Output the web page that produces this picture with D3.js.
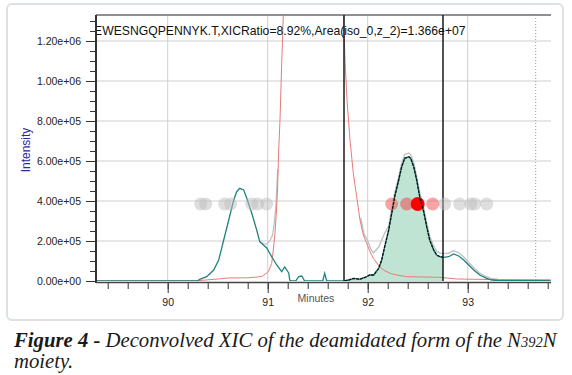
<!DOCTYPE html>
<html>
<head>
<meta charset="utf-8">
<script src="https://cdn.jsdelivr.net/npm/d3@7"></script>
<style>
  body { margin: 0; background: #fff; }
  svg { display: block; }
  .tick text { font-family: "Liberation Sans", Arial, sans-serif; font-size: 10.5px; fill: #222; }
</style>
</head>
<body>
<div id="chart"></div>
<script>
// deconvolved XIC (teal), minutes / intensity
var tealMin = [89.28, 90.20, 90.30, 90.32, 90.39, 90.46, 90.51, 90.56, 90.61, 90.66, 90.69, 90.72, 90.76, 90.79, 90.84, 90.89,
  90.92, 90.99, 91.04, 91.09, 91.14, 91.17, 91.21, 91.22, 91.24, 91.28, 91.31, 91.34, 91.37, 91.55, 91.57, 91.59, 91.75,
  91.78, 91.81, 91.86, 91.92, 91.99, 92.02, 92.06, 92.11, 92.14, 92.17, 92.21, 92.24, 92.27, 92.31, 92.34, 92.37, 92.41,
  92.43, 92.46, 92.49, 92.52, 92.56, 92.59, 92.62, 92.66, 92.69, 92.72, 92.76, 92.81, 92.86, 92.91, 92.96, 93.01, 93.06,
  93.12, 93.19, 93.24, 93.30, 93.83];
var tealInt = [0, 0, 1000, 8500, 21500, 55000, 105000, 205000, 305000, 405000, 446500, 463500, 455000, 415000, 340000, 255000,
  196500, 165000, 121500, 80000, 46500, 70000, 40000, 5000, 0, 0, 21500, 25000, 0, 0, 38500, 0, 0,
  2000, 5000, 13500, 8500, 21500, 30000, 30000, 63500, 105000, 171500, 255000, 338500, 421500, 505000, 571500, 613500, 621500,
  613500, 571500, 505000, 421500, 346500, 271500, 205000, 155000, 130000, 121500, 118500, 121500, 135000, 125000, 105000, 80000, 55000,
  30000, 13500, 5000, 2000, 2000];

// interfering isotope trace (red)
var redMin = [89.28, 90.30, 90.50, 90.60, 90.80, 90.90, 90.95, 91.007, 91.04, 91.056, 91.073, 91.088, 91.098, 91.11, 91.123,
  91.138, 91.156, 91.20, 91.30, 91.45, 91.60, 91.70, 91.758, 91.773, 91.793, 91.823, 91.856, 91.89, 91.923, 91.956, 91.99,
  92.023, 92.056, 92.106, 92.156, 92.223, 92.29, 92.39, 92.72, 92.89, 93.22, 93.83];
var redInt = [1000, 1500, 10000, 15000, 16000, 20000, 25000, 46500, 88500, 155000, 240000, 355000, 455000, 655000, 805000,
  1055000, 1330000, 2000000, 3500000, 4500000, 3500000, 2200000, 1330000, 1105000, 905000, 705000, 538500, 421500, 305000, 230000, 188500,
  146500, 113500, 80000, 55000, 38500, 30000, 21500, 18500, 10000, 7500, 6000];

// raw XIC (grey), only where it shows
var greyMin1 = [90.92, 90.96, 90.99, 91.02, 91.045, 91.06, 91.08, 91.10];
var greyInt1 = [200000, 185000, 185000, 200000, 225000, 265000, 360000, 560000];
var greyMin2 = [91.93, 91.96, 92.00, 92.03, 92.056, 92.11, 92.14, 92.17, 92.21, 92.24, 92.27, 92.31, 92.34, 92.37, 92.41,
  92.43, 92.46, 92.49, 92.52, 92.56, 92.59, 92.62, 92.66, 92.69, 92.72, 92.76, 92.81, 92.86, 92.91, 92.96, 93.01, 93.06,
  93.12, 93.19, 93.24, 93.30];
var greyInt2 = [315000, 240000, 200000, 160000, 140000, 170000, 205000, 240000, 275000, 360000, 440000, 522000, 590000, 632000, 640000,
  632000, 590000, 522000, 440000, 365000, 290000, 224000, 174000, 149000, 140000, 137000, 139000, 152000, 141000, 120000, 93000, 66000,
  39000, 21000, 12000, 9000];

// integration window and marker line
var windowMin = [91.763, 92.753];
var markerMin = 93.68;

// isotope apex markers
var markerLevel = 385000;
var greyDotMin = [90.33, 90.38, 90.57, 90.63, 90.84, 90.90, 90.99, 92.39, 92.77, 92.92, 93.03, 93.07, 93.19];
var redDotMin = [92.24, 92.39, 92.65];
var apexDotMin = [92.50];

var xTicks = [90, 91, 92, 93];
var yTicks = [0, 200000, 400000, 600000, 800000, 1000000, 1200000];
var titleText = "EWESNGQPENNYK.T,XICRatio=8.92%,Area(iso_0,z_2)=1.366e+07";

var W = 572, H = 375;
var plot = {left: 96, right: 551, top: 15, bottom: 281};

var x = d3.scaleLinear().domain([89.283, 93.833]).range([plot.left, plot.right]);
var y = d3.scaleLinear().domain([0, 1330000]).range([plot.bottom, plot.top]);

var svg = d3.select("#chart").append("svg").attr("width", W).attr("height", H);

// outer frame
svg.append("rect").attr("x", 7).attr("y", 4).attr("width", 556).attr("height", 316).attr("rx", 5)
    .attr("fill", "#fff").attr("stroke", "#dce1e6").attr("stroke-width", 2);

svg.append("clipPath").attr("id", "plotClip").append("rect")
    .attr("x", plot.left).attr("y", plot.top).attr("width", plot.right - plot.left).attr("height", plot.bottom - plot.top);
svg.append("clipPath").attr("id", "winClip").append("rect")
    .attr("x", x(windowMin[0])).attr("y", plot.top).attr("width", x(windowMin[1]) - x(windowMin[0])).attr("height", plot.bottom - plot.top);

// grid
var grid = svg.append("g");
grid.selectAll("line.v").data(xTicks).enter().append("line")
    .attr("x1", d => x(d)).attr("x2", d => x(d)).attr("y1", plot.top).attr("y2", plot.bottom)
    .attr("stroke", "#cfcfcf").attr("stroke-width", 1);
grid.selectAll("line.h").data(yTicks.slice(1)).enter().append("line")
    .attr("x1", plot.left).attr("x2", plot.right).attr("y1", d => y(d)).attr("y2", d => y(d))
    .attr("stroke", "#cfcfcf").attr("stroke-width", 1);
grid.append("line").attr("x1", plot.left).attr("x2", plot.right).attr("y1", plot.top).attr("y2", plot.top)
    .attr("stroke", "#8f8f8f").attr("stroke-width", 2);
grid.append("line").attr("x1", x(markerMin)).attr("x2", x(markerMin)).attr("y1", plot.top).attr("y2", plot.bottom)
    .attr("stroke", "#9a9a9a").attr("stroke-dasharray", "1,2");

var g = svg.append("g").attr("clip-path", "url(#plotClip)");

var line = d3.line().x(d => x(d[0])).y(d => y(d[1]));
var area = d3.area().x(d => x(d[0])).y0(y(0)).y1(d => y(d[1]));
var teal = d3.zip(tealMin, tealInt);

g.append("path").datum(teal).attr("d", area).attr("clip-path", "url(#winClip)").attr("fill", "#bfe4d4");

g.append("path").datum(d3.zip(greyMin1, greyInt1)).attr("d", line).attr("fill", "none").attr("stroke", "#bdbdbd").attr("stroke-width", 1.2);
g.append("path").datum(d3.zip(greyMin2, greyInt2)).attr("d", line).attr("fill", "none").attr("stroke", "#c4c4c4").attr("stroke-width", 1.5);

g.append("path").datum(d3.zip(redMin, redInt)).attr("d", line).attr("fill", "none").attr("stroke", "#e87b7b").attr("stroke-width", 1);

g.append("path").datum(teal).attr("d", line).attr("fill", "none").attr("stroke", "#21837e").attr("stroke-width", 1.3);
svg.append("g").attr("clip-path", "url(#winClip)").append("path").datum(teal).attr("d", line)
    .attr("fill", "none").attr("stroke", "#111").attr("stroke-width", 1.3).attr("stroke-dasharray", "3,1");

// window bounds
g.selectAll("line.win").data(windowMin).enter().append("line")
    .attr("x1", d => x(d)).attr("x2", d => x(d)).attr("y1", plot.top).attr("y2", plot.bottom)
    .attr("stroke", "#1a1a1a").attr("stroke-width", 1.5);

// markers
g.selectAll("circle.grey").data(greyDotMin).enter().append("circle")
    .attr("cx", d => x(d)).attr("cy", y(markerLevel)).attr("r", 6.5).attr("fill", "#bdbdbd").attr("fill-opacity", 0.5);
g.selectAll("circle.red").data(redDotMin).enter().append("circle")
    .attr("cx", d => x(d)).attr("cy", y(markerLevel)).attr("r", 6.5).attr("fill", "#f05a5a").attr("fill-opacity", 0.55);
g.selectAll("circle.apex").data(apexDotMin).enter().append("circle")
    .attr("cx", d => x(d)).attr("cy", y(markerLevel)).attr("r", 7).attr("fill", "#ff0000");

// title inside plot
g.append("text").attr("x", plot.left - 2).attr("y", 35).text(titleText)
    .attr("font-family", "Liberation Sans, Arial, sans-serif").attr("font-size", 12.2).attr("fill", "#111");

// axes
var yAxis = d3.axisLeft(y).tickValues(yTicks).tickFormat(d => d3.format(".2e")(d).replace(/e([+-])(\d)$/, "e$10$2"))
    .tickSize(10).tickPadding(5);
var yMinor = d3.axisLeft(y).tickValues(d3.range(0, 1300001, 50000)).tickSize(6).tickFormat("");
var xAxis = d3.axisBottom(x).tickValues(xTicks).tickFormat(d3.format("d")).tickSize(10).tickPadding(6);
var xMinor = d3.axisBottom(x).tickValues(d3.range(89.4, 93.81, 0.2)).tickSize(6).tickFormat("");

function styleAxis(sel) {
    sel.select(".domain").remove();
    sel.selectAll(".tick line").attr("stroke", "#333");
}
svg.append("g").attr("transform", "translate(" + plot.left + ",0)").call(yMinor).call(styleAxis);
svg.append("g").attr("transform", "translate(" + plot.left + ",0)").call(yAxis).call(styleAxis);
svg.append("g").attr("transform", "translate(0," + (plot.bottom + 2) + ")").call(xMinor).call(styleAxis);
svg.append("g").attr("transform", "translate(0," + (plot.bottom + 2) + ")").call(xAxis).call(styleAxis);

svg.append("line").attr("x1", plot.left).attr("x2", plot.left).attr("y1", plot.top).attr("y2", plot.bottom + 2)
    .attr("stroke", "#333").attr("stroke-width", 2);
svg.append("line").attr("x1", plot.left).attr("x2", plot.right).attr("y1", plot.bottom + 1.5).attr("y2", plot.bottom + 1.5)
    .attr("stroke", "#444").attr("stroke-width", 1.5);

svg.append("text").text("Minutes").attr("x", 316).attr("y", 302).attr("text-anchor", "middle")
    .attr("font-family", "Liberation Sans, Arial, sans-serif").attr("font-size", 10.5).attr("fill", "#555");
svg.append("text").text("Intensity").attr("transform", "translate(30,150) rotate(-90)").attr("text-anchor", "middle")
    .attr("font-family", "Liberation Sans, Arial, sans-serif").attr("font-size", 12).attr("fill", "#2a2aa0");

// caption
var cap = svg.append("text").attr("x", 14).attr("y", 347)
    .attr("font-family", "Liberation Serif, serif").attr("font-style", "italic").attr("font-size", 20).attr("fill", "#1a1a1a");
cap.append("tspan").attr("font-weight", "bold").text("Figure 4 - ");
cap.append("tspan").text("Deconvolved XIC of the deamidated form of the N");
cap.append("tspan").attr("font-size", "0.7em").text("392");
cap.append("tspan").text("N");
var w = cap.node().getComputedTextLength();
var fs = 20 * 543 / w;
cap.attr("font-size", fs);
svg.append("text").attr("x", 14).attr("y", 368).text("moiety.")
    .attr("font-family", "Liberation Serif, serif").attr("font-style", "italic").attr("font-size", fs).attr("fill", "#1a1a1a");
</script>
</body>
</html>
